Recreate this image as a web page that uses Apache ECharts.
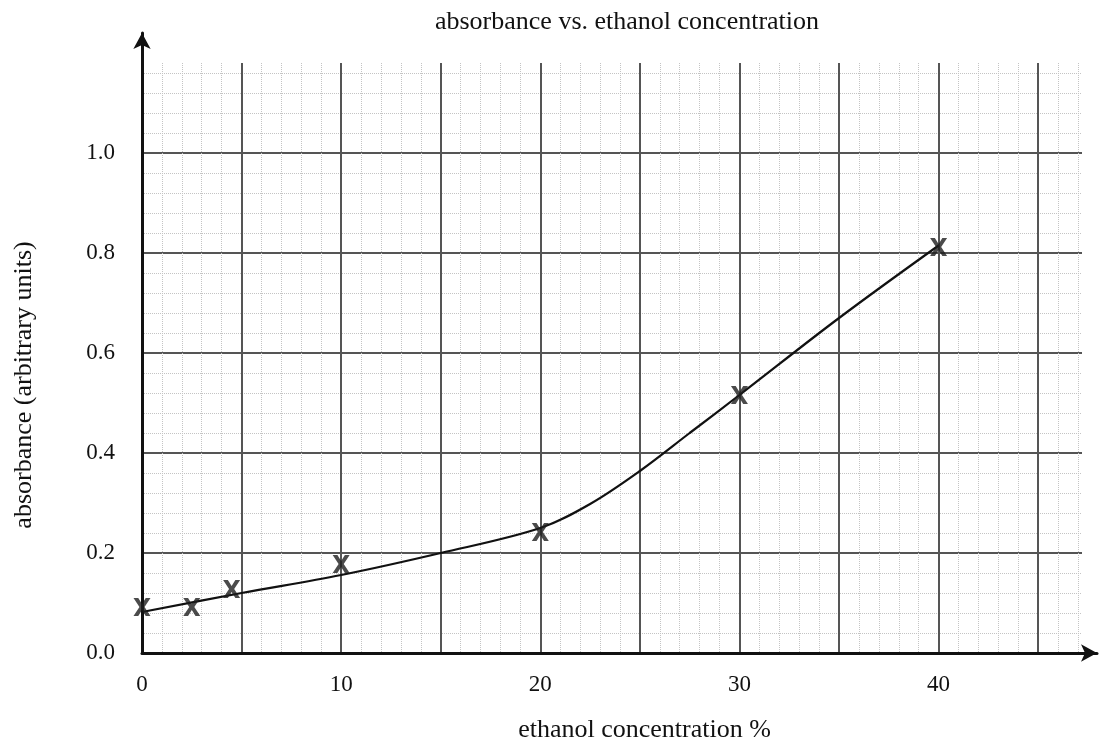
<!DOCTYPE html>
<html>
<head>
<meta charset="utf-8">
<script src="https://cdn.jsdelivr.net/npm/echarts@6/dist/echarts.min.js"></script>
<style>
  html, body { margin: 0; padding: 0; background: #fff; }
  #chart { width: 1102px; height: 740px; }
</style>
</head>
<body>
<div id="chart"></div>
<script>
// measured points (the X marks)
const concX = [0, 2.5, 4.5, 10, 20, 30, 40];
const absorbY = [0.092, 0.092, 0.128, 0.178, 0.242, 0.516, 0.812];

// hand drawn trend curve
const curveX = [0, 5, 10, 15, 20, 22.5, 25, 27.5, 30, 35, 40];
const curveY = [0.082, 0.12, 0.156, 0.2, 0.25, 0.298, 0.364, 0.44, 0.516, 0.67, 0.815];

const xTickLabels = [0, 10, 20, 30, 40];
const yTickLabels = [0, 0.2, 0.4, 0.6, 0.8, 1.0];

const serif = 'Liberation Serif';
const crossPath = 'path://M0,0 L2.8,0 L5,3.3 L7.2,0 L10,0 L6.5,5 L10,10 L7.2,10 L5,6.7 L2.8,10 L0,10 L3.5,5 Z';

const chart = echarts.init(document.getElementById('chart'));

const option = {
  backgroundColor: '#fff',
  animation: false,
  title: {
    text: 'absorbance vs. ethanol concentration',
    left: 622,
    textAlign: 'center',
    top: 4,
    textStyle: { fontFamily: serif, fontWeight: 'normal', fontSize: 26, color: '#111' }
  },
  // grid 0: the graph paper and the data, grid 1: the long axes with arrows
  grid: [
    { left: 142, right: 20, top: 63, bottom: 87, outerBoundsMode: 'none' },
    { left: 142, right: 5, top: 33, bottom: 87, outerBoundsMode: 'none' }
  ],
  xAxis: [
    {
      gridIndex: 0,
      type: 'value',
      min: 0,
      max: 47.2,
      interval: 5,
      axisLine: { show: false },
      axisTick: { show: false },
      axisLabel: {
        fontFamily: serif, fontSize: 23, color: '#111', margin: 20,
        formatter: v => xTickLabels.includes(v) ? String(v) : ''
      },
      splitLine: { show: true, showMaxLine: false, lineStyle: { color: '#555', width: 2 } },
      minorTick: { show: false, splitNumber: 5 },
      minorSplitLine: { show: true, lineStyle: { color: '#c4c4c4', width: 1, type: 'dotted' } }
    },
    {
      gridIndex: 1,
      type: 'value',
      min: 0,
      max: 48,
      name: 'ethanol concentration %',
      nameLocation: 'middle',
      nameGap: 64,
      nameTextStyle: { fontFamily: serif, fontSize: 26, color: '#111', padding: [0, 0, 0, 50] },
      axisLine: {
        lineStyle: { color: '#111', width: 3 },
        symbol: ['none', 'arrow'],
        symbolSize: [13, 16]
      },
      axisTick: { show: false },
      axisLabel: { show: false },
      splitLine: { show: false }
    }
  ],
  yAxis: [
    {
      gridIndex: 0,
      type: 'value',
      min: 0,
      max: 1.18,
      interval: 0.2,
      axisLine: { show: false },
      axisTick: { show: false },
      axisLabel: {
        fontFamily: serif, fontSize: 23, color: '#111', margin: 27,
        formatter: v => yTickLabels.some(t => Math.abs(t - v) < 1e-6) ? v.toFixed(1) : ''
      },
      splitLine: { show: true, showMaxLine: false, lineStyle: { color: '#555', width: 2 } },
      minorTick: { show: false, splitNumber: 5 },
      minorSplitLine: { show: true, lineStyle: { color: '#c4c4c4', width: 1, type: 'dotted' } }
    },
    {
      gridIndex: 1,
      type: 'value',
      min: 0,
      max: 1.24,
      name: 'absorbance (arbitrary units)',
      nameLocation: 'middle',
      nameGap: 105,
      nameTextStyle: { fontFamily: serif, fontSize: 26, color: '#111', padding: [0, 84, 0, 0] },
      axisLine: {
        lineStyle: { color: '#111', width: 3 },
        symbol: ['none', 'arrow'],
        symbolSize: [13, 16]
      },
      axisTick: { show: false },
      axisLabel: { show: false },
      splitLine: { show: false }
    }
  ],
  series: [
    {
      name: 'trend',
      type: 'line',
      xAxisIndex: 0,
      yAxisIndex: 0,
      data: curveX.map((x, i) => [x, curveY[i]]),
      smooth: 0.35,
      showSymbol: false,
      lineStyle: { color: '#111', width: 2.2 },
      z: 3
    },
    {
      name: 'measured',
      type: 'scatter',
      xAxisIndex: 0,
      yAxisIndex: 0,
      data: concX.map((x, i) => [x, absorbY[i]]),
      symbol: crossPath,
      symbolSize: [17, 18],
      itemStyle: { color: '#1e1e1e' },
      z: 4
    }
  ]
};

chart.setOption(option);
</script>
</body>
</html>
